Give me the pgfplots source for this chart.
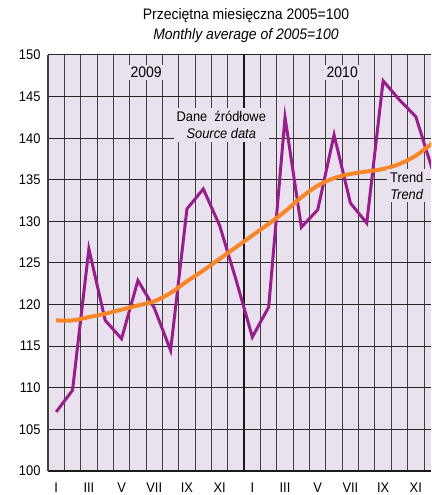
\documentclass[border=0pt]{standalone}
\usepackage{pgfplots}
\pgfplotsset{compat=1.18}
\usepackage{fontspec}
\setmainfont{Liberation Sans}[FakeStretch=0.92]
\definecolor{bg}{RGB}{234,225,239}
\definecolor{src}{RGB}{152,30,140}
\definecolor{trd}{RGB}{247,134,38}
\newcommand{\fs}{\fontsize{14bp}{17bp}\selectfont}
\newcommand{\ft}{\fontsize{15.2bp}{18bp}\selectfont}
\begin{document}
\begin{tikzpicture}[x=1bp,y=1bp]
\useasboundingbox (0,0) rectangle (431,495);
\begin{axis}[
  at={(48bp,24bp)}, anchor=south west,
  scale only axis, width=383bp, height=416bp,
  xmin=0, xmax=23.43, ymin=100, ymax=150,
  axis lines=left,
  axis line style={-},
  x axis line style={line width=2.4bp, black!90},
  y axis line style={line width=1.5bp, black!75},
  axis background/.style={fill=bg},
  ytick={100,105,...,150},
  /pgf/number format/assume math mode=true,
  yticklabel={\pgfmathprintnumber{\tick}},
  xtick={1,...,23},
  xticklabels={},
  extra x ticks={0.5,2.5,...,22.5},
  extra x tick labels={I,III,V,VII,IX,XI,I,III,V,VII,IX,XI},
  extra x tick style={grid=none, xticklabel style={yshift=-8bp}},
  major tick length=0,
  grid=major,
  x grid style={black!75, line width=0.9bp},
  y grid style={black!85, line width=1bp},
  tick label style={font=\fs},
  yticklabel style={xshift=-4bp},
  clip=true,
]
\addplot[black!90, line width=2bp, forget plot] coordinates {(12,100) (12,150)};
\addplot[src, line width=3bp, line join=miter] coordinates {
(0.5,107.1) (1.5,109.7) (2.5,126.7) (3.5,118.1) (4.5,115.9) (5.5,122.9)
(6.5,119.6) (7.5,114.5) (8.5,131.5) (9.5,133.9) (10.5,129.5) (11.5,123.0)
(12.5,116.1) (13.5,119.7) (14.5,142.5) (15.5,129.3) (16.5,131.4) (17.5,140.4)
(18.5,132.2) (19.5,129.8) (20.5,146.9) (21.5,144.6) (22.5,142.6) (23.5,136.3)
};
\addplot[trd, line width=4bp, smooth] coordinates {
(0.5,118.1) (1.5,118.1) (2.5,118.5) (3.5,118.9) (4.5,119.4) (5.5,119.9)
(6.5,120.4) (7.5,121.4) (8.5,122.8) (9.5,124.1) (10.5,125.5) (11.5,126.9)
(12.5,128.3) (13.5,129.7) (14.5,131.2) (15.5,132.9) (16.5,134.3) (17.5,135.2)
(18.5,135.7) (19.5,136.0) (20.5,136.3) (21.5,136.9) (22.5,137.9) (23.5,139.4)
};
\node[fill=bg, inner sep=2.5bp, font=\ft] at (axis cs:6,147.9) {2009};
\node[fill=bg, inner sep=2.5bp, font=\ft] at (axis cs:18,147.9) {2010};
\node[fill=bg, inner sep=3bp, font=\fs, align=center] at (axis cs:10.6,141.6)
  {Dane\enspace źródłowe\\\textit{Source data}};
\node[fill=bg, inner sep=3bp, font=\fs, align=center] at (axis cs:21.95,134.3)
  {Trend\\\textit{Trend}};
\end{axis}
\node[anchor=base, font=\ft] at (246,475) {Przeciętna miesięczna 2005=100};
\node[anchor=base, font=\ft] at (246,455) {\textit{Monthly average of 2005=100}};
\end{tikzpicture}
\end{document}
